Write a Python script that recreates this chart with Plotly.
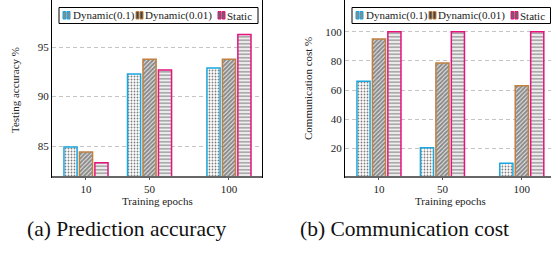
import plotly.graph_objects as go

# ---------------- data ----------------
epochs = [10, 50, 100]
series_names = ["Dynamic(0.1)", "Dynamic(0.01)", "Static"]
acc_dyn01 = [84.9, 92.3, 92.9]
acc_dyn001 = [84.4, 93.8, 93.8]
acc_static = [83.3, 92.7, 96.3]
cost_dyn01 = [66, 20.5, 10]
cost_dyn001 = [95, 78.5, 63]
cost_static = [100, 100, 100]
acc_ticks = [85, 90, 95]
cost_ticks = [20, 40, 60, 80, 100]
captions = ["(a) Prediction accuracy", "(b) Communication cost"]

# ---------------- styles ----------------
W, H = 551, 257
FONT = "Liberation Serif"
colors = ["#1BA6E0", "#BF8040", "#E5137E"]
patterns = [
    dict(shape=".", fgcolor="#000000", bgcolor="#ffffff", size=3, solidity=0.3),
    dict(shape="/", fgcolor="#1a1a1a", bgcolor="#ffffff", size=3, solidity=0.75),
    dict(shape="-", fgcolor="#555555", bgcolor="#ffffff", size=3.5, solidity=0.6),
]
swatch_fill = ["#8a8a8a", "#444444", "#666666"]


def fx(px):
    return px / W


def fy(py):
    return 1 - py / H


fig = go.Figure()
acc_data = [acc_dyn01, acc_dyn001, acc_static]
cost_data = [cost_dyn01, cost_dyn001, cost_static]
for i, name in enumerate(series_names):
    for vals, xa, ya in [(acc_data[i], "x", "y"), (cost_data[i], "x2", "y2")]:
        fig.add_trace(go.Bar(
            x=epochs, y=vals, name=name, xaxis=xa, yaxis=ya, showlegend=False,
            marker=dict(color="white", pattern=patterns[i],
                        line=dict(color=colors[i], width=1.5)),
        ))

axis_common = dict(showline=True, linecolor="#000000", linewidth=1, mirror=True,
                   tickfont=dict(family=FONT, size=11, color="#222"),
                   zeroline=False)
fig.update_layout(
    width=W, height=H, margin=dict(l=0, r=0, t=0, b=0),
    paper_bgcolor="white", plot_bgcolor="white",
    barmode="group", bargap=0.27, bargroupgap=0.15,
    showlegend=False,
    xaxis=dict(domain=[fx(52), fx(262)], range=[-11.4, 120.8], tickvals=epochs,
               ticks="outside", ticklen=2, tickcolor="#555", showgrid=False,
               anchor="y", **axis_common),
    yaxis=dict(domain=[fy(177), 1], range=[81.86, 99.79], tickvals=acc_ticks,
               ticks="", showgrid=True, gridcolor="#c4c4c4", griddash="4px,3px",
               gridwidth=1, anchor="x", **axis_common),
    xaxis2=dict(domain=[fx(345), 1], range=[-11.4, 118.4], tickvals=epochs,
                ticks="outside", ticklen=2, tickcolor="#555", showgrid=False,
                anchor="y2", **axis_common),
    yaxis2=dict(domain=[fy(177), 1], range=[0.5, 121.7], tickvals=cost_ticks,
                ticks="", showgrid=True, gridcolor="#c4c4c4", griddash="4px,3px",
                gridwidth=1, anchor="x2", **axis_common),
)

# thicker grey bottom axis lines
for x0, x1 in [(52, 262), (345, 551)]:
    fig.add_shape(type="line", xref="paper", yref="paper", x0=fx(x0), x1=fx(x1),
                  y0=fy(177), y1=fy(177), line=dict(color="#666666", width=2))

annotations = []
# axis titles
for cx in [157, 450]:
    annotations.append(dict(text="Training epochs", x=fx(cx), y=fy(201), xref="paper",
                            yref="paper", showarrow=False, xanchor="center",
                            yanchor="middle", font=dict(family=FONT, size=11, color="#222")))
annotations.append(dict(text="Testing accuracy %", x=fx(15), y=fy(90), xref="paper",
                        yref="paper", showarrow=False, textangle=-90, xanchor="center",
                        yanchor="middle", font=dict(family=FONT, size=11, color="#222")))
annotations.append(dict(text="Communication cost %", x=fx(308), y=fy(89), xref="paper",
                        yref="paper", showarrow=False, textangle=-90, xanchor="center",
                        yanchor="middle", font=dict(family=FONT, size=11, color="#222")))
# captions
for cap, cx in zip(captions, [126.5, 404.5]):
    annotations.append(dict(text=cap, x=fx(cx), y=fy(228.5), xref="paper", yref="paper",
                            showarrow=False, xanchor="center", yanchor="middle",
                            font=dict(family=FONT, size=21.5, color="#111")))

# legends (pgfplots-style, inside top of each panel)
legend_offsets = [(63, 71), (136, 143), (218, 225)]
for base in [0, 293]:
    fig.add_shape(type="rect", xref="paper", yref="paper",
                  x0=fx(59 + base), x1=fx(min(258 + base, 550.5)), y0=fy(23.5), y1=fy(7.5),
                  line=dict(color="#000", width=1), fillcolor="white", layer="above")
    for i, name in enumerate(series_names):
        sx, tx = legend_offsets[i]
        for dx in [0, 4]:
            fig.add_shape(type="rect", xref="paper", yref="paper",
                          x0=fx(base + sx + dx), x1=fx(base + sx + dx + 3),
                          y0=fy(19), y1=fy(11.5),
                          line=dict(color=colors[i], width=1), fillcolor=swatch_fill[i],
                          layer="above")
        annotations.append(dict(text=name, x=fx(base + tx), y=fy(15.5), xref="paper",
                                yref="paper", showarrow=False, xanchor="left",
                                yanchor="middle",
                                font=dict(family=FONT, size=11, color="#222")))

fig.update_layout(annotations=annotations)
fig.write_html("out.html", config={"displayModeBar": False},
               post_script="document.body.style.margin='0';document.body.style.overflow='hidden';")
